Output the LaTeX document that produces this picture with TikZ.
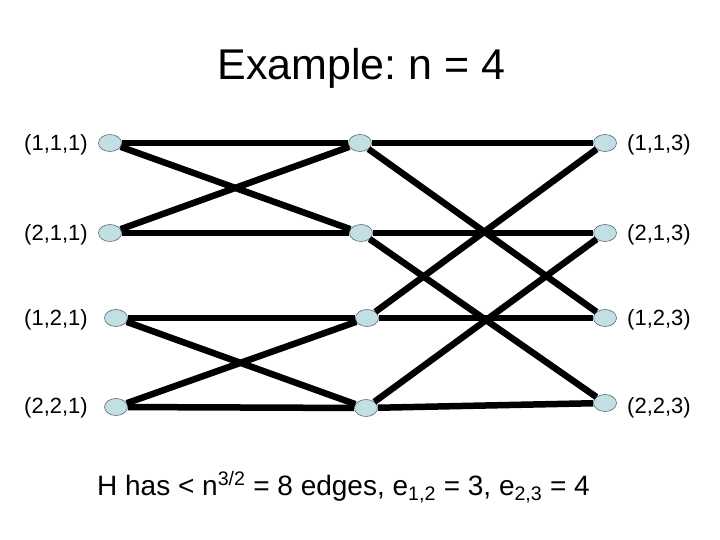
\documentclass[tikz,border=0pt]{standalone}
\usepackage{fontspec}
\setmainfont{Liberation Sans}
\usepackage{xcolor}
\usetikzlibrary{shapes.geometric}
\definecolor{Ink}{HTML}{000000}
\definecolor{Vert}{HTML}{C2E0E4}
\definecolor{VertLine}{HTML}{5A6E78}
\frenchspacing

\begin{document}
\begin{tikzpicture}[
    x=1pt,
    y=-1pt,
    vtx/.style={ellipse, draw=VertLine, line width=0.6pt, fill=Vert,
                minimum width=23pt, minimum height=17pt, inner sep=0pt},
    edgeline/.style={Ink, line width=6.5pt},
    lab/.style={font=\fontsize{22}{26}\selectfont, text=Ink, inner sep=0pt}
]

\useasboundingbox (0,0) rectangle (720,540);

% Title
\node[font=\fontsize{43}{50}\selectfont, text=Ink] (title) at (361.5,68) {Example: n = 4};

% Vertices (three columns)
\foreach \n/\x/\y in {a1/110/143, a2/110/233, a3/116/318, a4/116/407,
                      b1/360/143, b2/361/233, b3/367/318, b4/366/408,
                      c1/605/143, c2/605/233, c3/605/318, c4/605/403} {
    \node[vtx] (\n) at (\x,\y) {};
}

% Edges
\foreach \s/\t in {a1/b1, a1/b2, a2/b1, a2/b2, a3/b3, a3/b4, a4/b3, a4/b4,
                   b1/c1, b1/c3, b2/c2, b2/c4, b3/c1, b3/c3, b4/c2, b4/c4} {
    \draw[edgeline] (\s) -- (\t);
}

% Left labels
\node[lab, anchor=east] (la1) at (88,145) {(1,1,1)};
\node[lab, anchor=east] (la2) at (88,235) {(2,1,1)};
\node[lab, anchor=east] (la3) at (88,320) {(1,2,1)};
\node[lab, anchor=east] (la4) at (88,408) {(2,2,1)};

% Right labels
\node[lab, anchor=west] (lc1) at (627,145) {(1,1,3)};
\node[lab, anchor=west] (lc2) at (627,235) {(2,1,3)};
\node[lab, anchor=west] (lc3) at (627,320) {(1,2,3)};
\node[lab, anchor=west] (lc4) at (627,408) {(2,2,3)};

% Caption
\node[font=\fontsize{28}{34}\selectfont, text=Ink, anchor=base] (note) at (343.5,495)
    {H has < n\textsuperscript{3/2} = 8 edges, e\textsubscript{1,2} = 3, e\textsubscript{2,3} = 4};

\end{tikzpicture}
\end{document}
